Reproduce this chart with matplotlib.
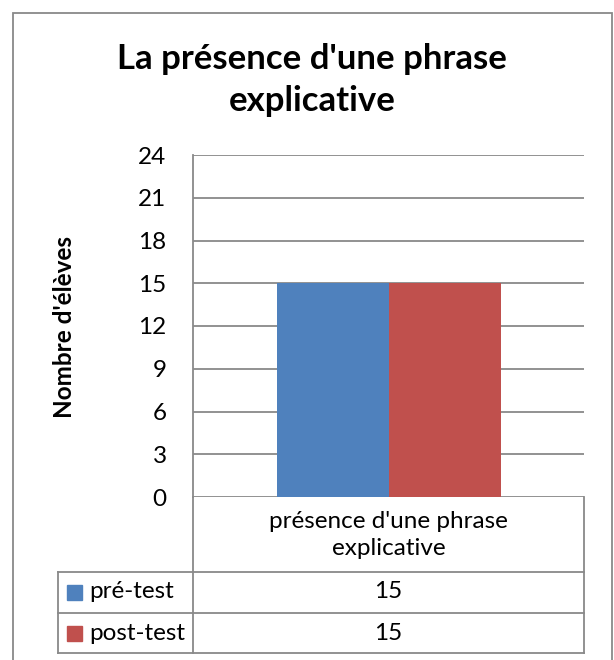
#!/usr/bin/env python3
import matplotlib
matplotlib.use('Agg')
from matplotlib import pyplot as plt
from matplotlib.lines import Line2D
from matplotlib.patches import Rectangle
from matplotlib.transforms import blended_transform_factory

plt.rcParams['font.family'] = ['Lato', 'DejaVu Sans']

title = "La présence d'une phrase\nexplicative"
y_label = "Nombre d'élèves"
categories = ["présence d'une phrase\nexplicative"]
series_names = ['pré-test', 'post-test']
pre_test = [15]
post_test = [15]
y_ticks = [0, 3, 6, 9, 12, 15, 18, 21, 24]
colors = ['#4F81BD', '#C0504D']
line_gray = '#898989'

W, H = 614, 660
fig = plt.figure(figsize=(W / 100, H / 100), dpi=100)


def fx(x):
    return x / W


def fy(y):
    return 1 - y / H


# outer chart border (bottom edge falls outside the picture)
fig.add_artist(Rectangle((fx(13), fy(700)), fx(612) - fx(13), fy(13) - fy(700),
                         transform=fig.transFigure, fill=False,
                         edgecolor=line_gray, lw=1.3))

fig.text(fx(312), fy(80), title, ha='center', va='center',
         fontsize=25, fontweight='bold', linespacing=1.35)

# plot area
ax = fig.add_axes([fx(193), fy(497), fx(584) - fx(193), fy(155) - fy(497)])
x = list(range(len(categories)))
w = 112 / 391
ax.bar([i - w / 2 for i in x], pre_test, w, color=colors[0], zorder=3)
ax.bar([i + w / 2 for i in x], post_test, w, color=colors[1], zorder=3)
ax.set_xlim(-0.5, len(categories) - 0.5)
ax.set_ylim(0, 24)
ax.set_yticks(y_ticks)
ax.set_xticks([])
ax.yaxis.grid(True, color=line_gray, lw=1.3, zorder=0)
ax.tick_params(axis='y', length=0, pad=19, labelsize=17.5)
for s in ['top', 'right', 'bottom']:
    ax.spines[s].set_visible(False)
ax.spines['left'].set_color(line_gray)
ax.spines['left'].set_linewidth(1.3)
ax.set_axisbelow(True)

fig.text(fx(64), fy(327), y_label, rotation=90, ha='center', va='center',
         fontsize=17.5, fontweight='bold')

# data table
table_lines = [
    ((193, 193), (497, 653)),
    ((584, 584), (497, 653)),
    ((58, 58), (572, 653)),
    ((58, 584), (572, 572)),
    ((58, 584), (613, 613)),
    ((58, 584), (653, 653)),
]
for xs, ys in table_lines:
    fig.add_artist(Line2D([fx(v) for v in xs], [fy(v) for v in ys],
                          transform=fig.transFigure, color=line_gray, lw=1.3))

trans = blended_transform_factory(ax.transData, fig.transFigure)
row_y = [592, 633]
for i, cat in enumerate(categories):
    fig.text(i, fy(535), cat, transform=trans, ha='center', va='center',
             fontsize=17.5, linespacing=1.4)
    for vals, ry in zip([pre_test, post_test], row_y):
        fig.text(i, fy(ry), str(vals[i]), transform=trans, ha='center',
                 va='center', fontsize=17.5)

for name, c, ry in zip(series_names, colors, row_y):
    fig.add_artist(Rectangle((fx(67), fy(ry + 7.5)), fx(15), 15 / H,
                             transform=fig.transFigure, color=c))
    fig.text(fx(89), fy(ry), name, ha='left', va='center', fontsize=17.5)

plt.savefig('out.png', dpi=100)
